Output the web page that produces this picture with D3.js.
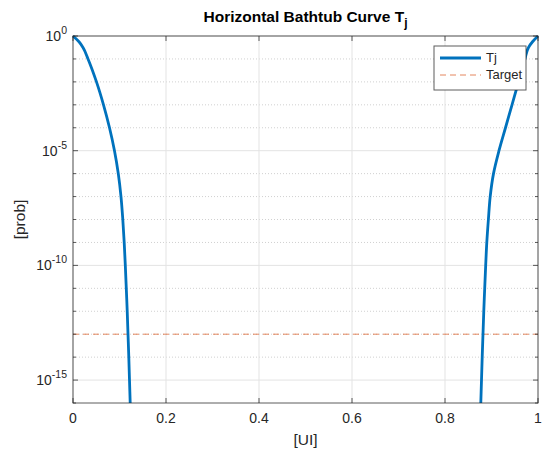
<!DOCTYPE html>
<html>
<head>
<meta charset="utf-8">
<script src="https://cdn.jsdelivr.net/npm/d3@7"></script>
<style>
  body { margin: 0; background: #fff; }
  text { font-family: Arial, "Liberation Sans", Helvetica, sans-serif; }
</style>
</head>
<body>
<svg id="chart" width="542" height="451"></svg>
<script>
// log10 probability levels (decades) at which the curve position was read
const logProb = [0, -0.25, -0.5, -1, -2, -3, -4, -5, -6, -7, -8, -9, -10, -11, -12, -13, -14, -15, -16];
// left branch: UI position
const leftUI  = [0, 0.0129, 0.0215, 0.0323, 0.0505, 0.0656, 0.0785, 0.0892, 0.0974, 0.1032, 0.1071, 0.1101, 0.1125, 0.1146, 0.1166, 0.1183, 0.1200, 0.1215, 0.1230];
// right branch: distance from UI = 1
const rightGap = [0, 0.0118, 0.0204, 0.0280, 0.0419, 0.0559, 0.0699, 0.0839, 0.0957, 0.1028, 0.1067, 0.1101, 0.1125, 0.1146, 0.1166, 0.1183, 0.1200, 0.1215, 0.1230];
const targetProb = 1e-13;
const xTicks = [0, 0.2, 0.4, 0.6, 0.8, 1];
const yMajorExp = [0, -5, -10, -15];
const yMinorExp = d3.range(-16, 1);
const seriesNames = ["Tj", "Target"];

const svg = d3.select("#chart");
const L = 73, R = 538, T = 36, B = 403;
const x = d3.scaleLinear().domain([0, 1]).range([L, R]);
const y = d3.scaleLog().domain([1e-16, 1]).range([B, T]);

const axisCol = "#262626";
const blue = "#0072BD", orange = "#D95319";

// minor grid (dotted)
svg.append("g").selectAll("line").data(yMinorExp.filter(e => !yMajorExp.includes(e) && e > -16))
  .join("line")
  .attr("x1", L).attr("x2", R)
  .attr("y1", d => y(Math.pow(10, d))).attr("y2", d => y(Math.pow(10, d)))
  .attr("stroke", "#d0d0d0").attr("stroke-width", 1).attr("stroke-dasharray", "1,2");

// major grid
svg.append("g").selectAll("line").data(yMajorExp)
  .join("line")
  .attr("x1", L).attr("x2", R)
  .attr("y1", d => y(Math.pow(10, d))).attr("y2", d => y(Math.pow(10, d)))
  .attr("stroke", "#e3e3e3").attr("stroke-width", 1);
svg.append("g").selectAll("line").data(xTicks)
  .join("line")
  .attr("x1", d => x(d)).attr("x2", d => x(d))
  .attr("y1", T).attr("y2", B)
  .attr("stroke", "#e3e3e3").attr("stroke-width", 1);

// target line
svg.append("line")
  .attr("x1", L).attr("x2", R)
  .attr("y1", y(targetProb)).attr("y2", y(targetProb))
  .attr("stroke", orange).attr("stroke-width", 1).attr("stroke-opacity", 0.7)
  .attr("stroke-dasharray", "6,4");

// curves
svg.append("clipPath").attr("id", "clp").append("rect")
  .attr("x", L - 2).attr("y", T - 2).attr("width", R - L + 4).attr("height", B - T + 2);
const line = d3.line().x(d => x(d[0])).y(d => y(Math.pow(10, d[1]))).curve(d3.curveMonotoneY);
const leftPts = logProb.map((p, i) => [leftUI[i], p]);
const rightPts = logProb.map((p, i) => [1 - rightGap[i], p]);
[leftPts, rightPts].forEach(pts => {
  svg.append("path").datum(pts)
    .attr("d", line)
    .attr("fill", "none").attr("stroke", blue).attr("stroke-width", 2.8)
    .attr("clip-path", "url(#clp)");
});

// box
svg.append("rect").attr("x", L).attr("y", T).attr("width", R - L).attr("height", B - T)
  .attr("fill", "none").attr("stroke", axisCol).attr("stroke-opacity", 0.75).attr("stroke-width", 1);

// ticks (inward)
const tk = svg.append("g").attr("stroke", axisCol).attr("stroke-opacity", 0.75);
xTicks.forEach(t => {
  tk.append("line").attr("x1", x(t)).attr("x2", x(t)).attr("y1", B).attr("y2", B - 5);
  tk.append("line").attr("x1", x(t)).attr("x2", x(t)).attr("y1", T).attr("y2", T + 5);
});
yMinorExp.forEach(e => {
  const yy = y(Math.pow(10, e));
  const len = yMajorExp.includes(e) ? 5 : 3;
  tk.append("line").attr("x1", L).attr("x2", L + len).attr("y1", yy).attr("y2", yy);
  tk.append("line").attr("x1", R).attr("x2", R - len).attr("y1", yy).attr("y2", yy);
});

// x tick labels
svg.append("g").selectAll("text").data(xTicks).join("text")
  .attr("x", d => x(d)).attr("y", 423)
  .attr("text-anchor", "middle").attr("font-size", 14).attr("fill", axisCol)
  .text(d => d3.format("~g")(d));

// y tick labels
yMajorExp.forEach(e => {
  const t = svg.append("text").attr("x", 67).attr("y", y(Math.pow(10, e)) + 5)
    .attr("text-anchor", "end").attr("font-size", 14).attr("fill", axisCol);
  t.append("tspan").text("10");
  t.append("tspan").attr("dy", -7).attr("font-size", 10.5).text(String(e));
});

// axis labels
svg.append("text").attr("x", (L + R) / 2).attr("y", 445)
  .attr("text-anchor", "middle").attr("font-size", 15.5).attr("fill", axisCol).text("[UI]");
svg.append("text").attr("transform", `translate(25,${(T + B) / 2}) rotate(-90)`)
  .attr("text-anchor", "middle").attr("font-size", 15.5).attr("fill", axisCol).text("[prob]");

// title
const title = svg.append("text").attr("x", (L + R) / 2).attr("y", 22)
  .attr("text-anchor", "middle").attr("font-size", 15.5).attr("font-weight", "bold").attr("fill", "#000");
title.append("tspan").text("Horizontal Bathtub Curve T");
title.append("tspan").attr("dy", 5).attr("font-size", 12).text("j");

// legend
const lg = svg.append("g");
lg.append("rect").attr("x", 434).attr("y", 46).attr("width", 92).attr("height", 44)
  .attr("fill", "#fff").attr("stroke", axisCol).attr("stroke-opacity", 0.75);
lg.append("line").attr("x1", 440).attr("x2", 481).attr("y1", 58).attr("y2", 58)
  .attr("stroke", blue).attr("stroke-width", 2.8);
lg.append("line").attr("x1", 440).attr("x2", 481).attr("y1", 75).attr("y2", 75)
  .attr("stroke", orange).attr("stroke-opacity", 0.7).attr("stroke-dasharray", "6,4");
lg.append("text").attr("x", 486).attr("y", 62).attr("font-size", 13).attr("fill", axisCol).text(seriesNames[0]);
lg.append("text").attr("x", 486).attr("y", 79).attr("font-size", 13).attr("fill", axisCol).text(seriesNames[1]);
</script>
</body>
</html>
